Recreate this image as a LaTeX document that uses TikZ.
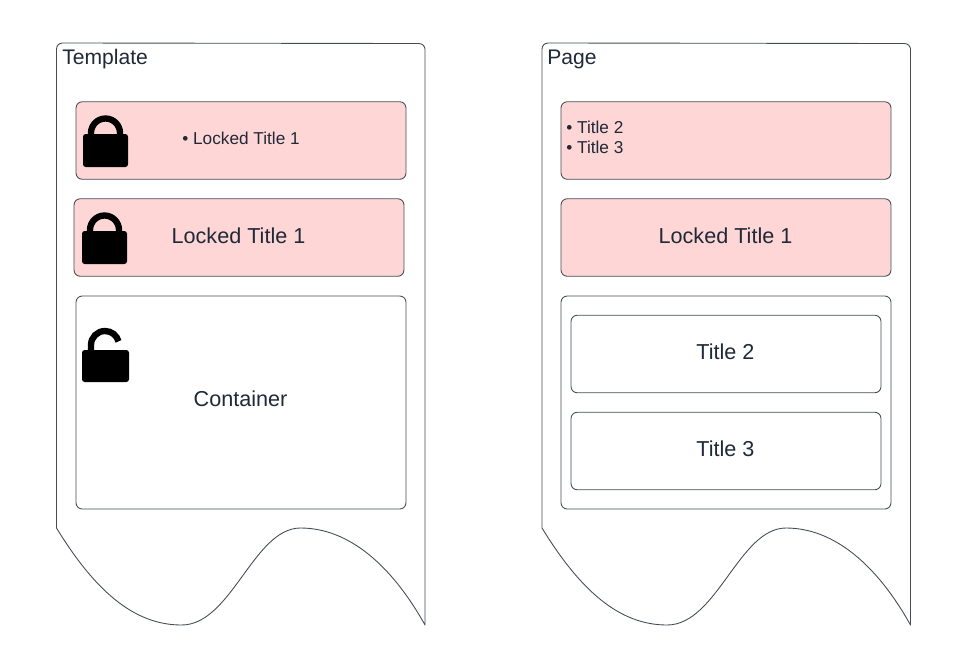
\documentclass[tikz,border=0pt]{standalone}
\usepackage{fontspec}
\setmainfont{Liberation Sans}
\usepackage{tikz}
\definecolor{inkline}{HTML}{454C55}
\definecolor{inktext}{HTML}{1F2937}
\definecolor{lockpink}{HTML}{FFD6D6}
% outline of one sheet, the x value is its left edge
\newcommand{\sheetat}[1]{
  \draw[sheet, xshift=#1*0.02cm] (0, 528) -- (0, 49)
  arc (180:270:6) -- (362.5, 43.5) arc (270:360:6) -- (368.5, 625)
  .. controls (335, 565) and (292, 528) .. (244, 528)
  .. controls (197, 528) and (175, 625) .. (125, 625)
  .. controls (77, 625) and (38, 590) .. cycle;
}
\begin{document}
\begin{tikzpicture}[x=0.02cm, y=-0.02cm,
    sheet/.style = {draw=inkline, line width=0.5pt, line join=round},
    slot/.style = {rectangle, draw=inkline, line width=0.5pt, rounded corners=3.5pt,
      minimum width=6.6cm, minimum height=1.55cm, inner sep=0},
    locked/.style = {slot, fill=lockpink},
    inner slot/.style = {slot, minimum width=6.2cm},
    word/.style = {inner sep=0, text=inktext, font=\fontsize{12.3}{14}\selectfont},
    heading/.style = {inner sep=0, text=inktext, anchor=west,
      font=\fontsize{12}{14}\selectfont},
    small/.style = {inner sep=0, text=inktext, anchor=west,
      font=\fontsize{9.8}{12}\selectfont},
    lock shut/.pic = {
      \fill[rounded corners=1.5pt, black] (0, 0) rectangle (45, 33);
      \draw[black, line width=3.6pt] (8, 2) -- (8, -1) arc (180:360:14.5) -- (37, 2);
    },
    lock open/.pic = {
      \fill[rounded corners=1.5pt, black] (0, 0) rectangle (47, 32);
      \draw[black, line width=3.6pt] (9, 2) -- (9, -5) arc (180:345:14);
    }]
  \useasboundingbox (0, 0) rectangle (980, 670);
  % template side
  \sheetat{56.5}
  \node[heading] (template) at (62, 59) {Template};
  \node[locked] (tmpl list) at (241, 140.5) {};
  \node[small] (tmpl bullet) at (182, 138.5) {• Locked Title 1};
  \node[locked] (tmpl title) at (239, 237.5) {};
  \node[word] (tmpl text) at (238.5, 235.5) {Locked Title 1};
  \node[slot, minimum height=4.26cm] (tmpl box) at (241, 402.5) {};
  \node[word] (tmpl word) at (240.5, 399) {Container};
  \pic at (83, 134) {lock shut};
  \pic at (82, 231) {lock shut};
  \pic at (82, 350) {lock open};
  % page side
  \sheetat{542}
  \node[heading] (page) at (547, 59) {Page};
  \node[locked] (page list) at (726, 140.5) {};
  \foreach \n/\y in {2/127, 3/147}
    \node[small] (bullet \n) at (566, \y) {• Title \n};
  \node[locked] (page title) at (726, 237.5) {};
  \node[word] (page text) at (725.5, 235.5) {Locked Title 1};
  \node[slot, minimum height=4.26cm] (page box) at (726, 402.5) {};
  \node[inner slot] (title two) at (726, 354) {};
  \node[word] (two text) at (725.5, 352) {Title 2};
  \node[inner slot] (title three) at (726, 451) {};
  \node[word] (three text) at (725.5, 449) {Title 3};
\end{tikzpicture}
\end{document}
